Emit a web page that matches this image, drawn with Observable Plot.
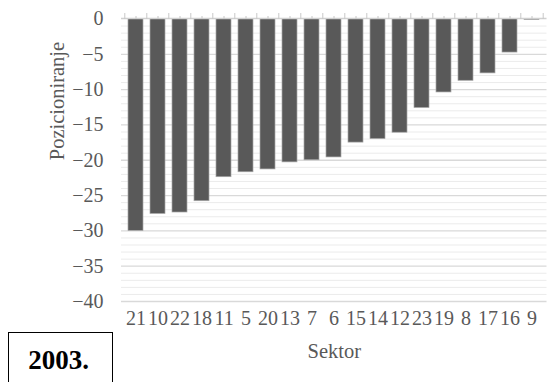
<!DOCTYPE html>
<html>
<head>
<meta charset="utf-8">
<script src="https://cdn.jsdelivr.net/npm/d3@7"></script>
<script src="https://cdn.jsdelivr.net/npm/@observablehq/plot@0.6"></script>
<style>
  html, body { margin: 0; padding: 0; background: #fff; }
  #wrap { position: relative; width: 551px; height: 382px; overflow: hidden; }
  #box { position: absolute; left: 8px; top: 332px; width: 105px; height: 60px;
         border: 1.5px solid #000; box-sizing: border-box; background: #fff;
         font-family: "Liberation Serif", "Times New Roman", serif; font-weight: bold;
         font-size: 27px; color: #000; text-align: center; padding-top: 12px; padding-right: 4px; }
  svg text { font-family: "Liberation Serif", "Times New Roman", serif; }
</style>
</head>
<body>
<div id="wrap"><div id="chart"></div><div id="box">2003.</div></div>
<script>
const sectors = ["21","10","22","18","11","5","20","13","7","6","15","14","12","23","19","8","17","16","9"];
const values  = [-30.0,-27.6,-27.4,-25.8,-22.4,-21.7,-21.3,-20.3,-20.0,-19.6,-17.5,-17.0,-16.1,-12.6,-10.4,-8.75,-7.7,-4.75,-0.15];
const yTicks = [0,-5,-10,-15,-20,-25,-30,-35,-40];
const yMinor = d3.range(-1, -40, -1).filter(v => v % 5 !== 0);
const yTitle = "Pozicioniranje";
const xTitle = "Sektor";

const data = sectors.map((s, i) => ({sector: s, value: values[i]}));
const font = '"Liberation Serif", "Times New Roman", serif';
const gray = "#595959";

const chart = Plot.plot({
  width: 551,
  height: 382,
  marginTop: 18.5,
  marginBottom: 81,
  marginLeft: 121,
  marginRight: 4.5,
  style: {fontFamily: font, background: "#fff", color: gray},
  x: {type: "band", domain: sectors, paddingInner: 0.33, paddingOuter: 0.165},
  y: {domain: [-40, 0]},
  marks: [
    Plot.ruleY(yMinor, {stroke: "#ebebeb", strokeWidth: 1}),
    Plot.ruleY(yTicks.filter(v => v !== 0), {stroke: "#d9d9d9", strokeWidth: 1.3}),
    Plot.barY(data, {x: "sector", y: "value", fill: "#595959", stroke: "#a6a6a6", strokeWidth: 0.7}),
    Plot.ruleY([0], {stroke: "#d0d0d0", strokeWidth: 1.3, dy: -0.5}),
    Plot.axisX({anchor: "top", tickSize: 3, tickFormat: () => "", label: null, stroke: "#c8c8c8", strokeWidth: 1, strokeOpacity: 1, dy: -0.5}),
    Plot.axisX({anchor: "top", tickSize: 6, dx: -11.2, tickFormat: () => "", label: null, stroke: "#c8c8c8", strokeWidth: 1, strokeOpacity: 1, dy: -0.5}),
    Plot.axisX({anchor: "top", ticks: [sectors[sectors.length - 1]], tickSize: 6, dx: 11.2, tickFormat: () => "", label: null, stroke: "#c8c8c8", strokeWidth: 1, strokeOpacity: 1, dy: -0.5}),
    Plot.axisX({anchor: "bottom", tickSize: 0, tickPadding: 9, label: null, fontSize: 20, fontFamily: font, fill: gray}),
    Plot.axisY({ticks: yTicks, tickSize: 0, tickPadding: 18, label: null, fontSize: 20, fontFamily: font, fill: gray}),
    Plot.text([yTitle], {frameAnchor: "left", dx: -64, rotate: -90, fontSize: 20.5, fontFamily: font, fill: gray}),
    Plot.text([xTitle], {frameAnchor: "bottom", dy: 56, fontSize: 20.5, fontFamily: font, fill: gray})
  ]
});
document.getElementById("chart").appendChild(chart);
</script>
</body>
</html>
